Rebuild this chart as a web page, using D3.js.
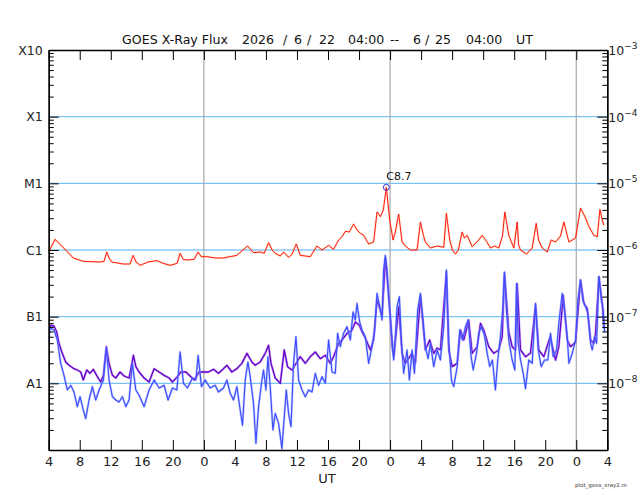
<!DOCTYPE html>
<html>
<head>
<meta charset="utf-8">
<script src="https://cdn.jsdelivr.net/npm/d3@7"></script>
<style>
  body { margin: 0; background: #fff; }
  text { font-family: "DejaVu Sans", sans-serif; }
</style>
</head>
<body>
<div id="chart"></div>
<script>
// hours since 2026/6/22 04:00 UT, flux given as log10(W/m^2)
var redHours = [0, 0.81, 2.1, 3.17, 4.43, 6.62, 7.14, 7.48, 7.78, 8.13, 9.59, 10.49, 10.88, 11.26, 11.79, 12.8, 13.94, 14.75, 15.65, 16.55, 16.94, 17.33, 17.81, 18.75, 19.26, 19.65, 20.39, 21.46, 22.49, 23.39, 24.26, 25.63, 26.4, 27.26, 27.78, 28.34, 28.81, 29.2, 29.85, 30.27, 30.92, 31.39, 31.91, 32.43, 33.07, 33.72, 34.58, 35.23, 36.08, 36.72, 37.37, 37.81, 38.23, 38.75, 39.3, 39.74, 40.17, 40.59, 41.24, 41.88, 42.32, 42.75, 43.13, 43.52, 43.95, 44.39, 44.68, 45.11, 45.55, 45.97, 46.62, 47.48, 47.91, 48.3, 48.55, 49.2, 50.06, 50.92, 51.26, 51.69, 52.04, 52.42, 52.8, 53.29, 53.59, 53.94, 54.58, 55.43, 55.87, 56.43, 56.94, 57.46, 58.01, 58.49, 58.79, 59.3, 59.95, 60.39, 60.56, 60.81, 61.59, 62.32, 62.84, 63.14, 63.61, 64.26, 64.77, 65.33, 65.97, 66.4, 67.05, 67.91, 68.55, 69.2, 69.63, 70.27, 70.71, 71.05, 71.35, 71.56];
var redLog = [-6.03, -5.84, -5.99, -6.12, -6.17, -6.18, -6.17, -6.03, -6.12, -6.18, -6.21, -6.21, -6.08, -6.18, -6.23, -6.18, -6.16, -6.2, -6.23, -6.2, -6.05, -6.14, -6.15, -6.14, -6.03, -6.1, -6.1, -6.12, -6.12, -6.1, -6.08, -5.94, -6.04, -6.03, -6.05, -5.89, -6.0, -6.05, -6.09, -6.03, -6.11, -6.06, -5.91, -6.08, -6.09, -6.1, -5.94, -6.0, -5.93, -5.99, -5.85, -5.8, -5.72, -5.73, -5.61, -5.7, -5.75, -5.78, -5.91, -5.88, -5.43, -5.5, -5.4, -5.06, -5.55, -5.85, -5.73, -5.46, -5.88, -5.94, -6.0, -6.0, -5.58, -5.78, -5.88, -5.97, -5.94, -5.96, -5.45, -5.85, -6.0, -6.06, -6.0, -5.73, -5.82, -5.78, -5.95, -5.85, -5.78, -5.87, -5.97, -5.94, -5.97, -5.79, -5.43, -5.78, -5.97, -5.58, -5.92, -6.0, -6.06, -5.97, -5.6, -5.85, -5.97, -6.03, -5.85, -5.88, -5.79, -5.58, -5.88, -5.82, -5.37, -5.52, -5.65, -5.78, -5.8, -5.39, -5.55, -5.63];

var purpleHours = [0, 0.26, 0.68, 1.03, 1.33, 1.75, 2.19, 2.62, 3.26, 3.69, 4.13, 4.46, 4.9, 5.33, 5.75, 6.27, 6.71, 7.05, 7.43, 7.78, 8.21, 8.65, 9.2, 9.72, 10.36, 10.92, 11.23, 11.65, 12.3, 12.94, 13.59, 14.23, 14.88, 15.52, 15.95, 16.59, 17.03, 17.68, 18.32, 18.75, 19.39, 19.95, 20.59, 21.24, 21.88, 22.53, 22.97, 23.61, 24.26, 24.9, 25.55, 26.19, 26.62, 27.26, 27.91, 28.34, 28.65, 29.2, 29.85, 30.36, 30.79, 31.35, 32.0, 32.43, 33.07, 33.72, 34.36, 35.01, 35.65, 36.3, 36.72, 37.37, 37.81, 38.45, 39.1, 39.52, 40.04, 40.39, 40.81, 41.46, 41.88, 42.32, 42.97, 43.41, 43.83, 44.28, 44.48, 45.12, 45.55, 45.97, 46.83, 47.26, 47.91, 48.55, 49.11, 49.63, 50.06, 50.49, 51.26, 51.56, 52.0, 52.65, 53.07, 53.5, 54.14, 54.58, 55.23, 55.65, 56.08, 56.72, 57.37, 58.01, 58.45, 58.75, 59.3, 59.74, 60.17, 60.39, 60.81, 61.46, 62.1, 62.75, 63.17, 63.82, 64.64, 65.33, 65.75, 66.32, 66.84, 67.26, 67.91, 68.55, 68.98, 69.42, 69.85, 70.27, 70.49, 70.92, 71.35, 71.56];
var purpleLog = [-7.2, -7.13, -7.14, -7.23, -7.4, -7.55, -7.68, -7.73, -7.78, -7.8, -7.83, -7.95, -7.8, -7.85, -7.79, -7.9, -7.98, -7.88, -7.45, -7.7, -7.88, -7.92, -7.83, -7.89, -7.92, -7.58, -7.75, -7.83, -7.92, -7.98, -7.78, -7.83, -7.88, -7.92, -7.98, -7.9, -7.83, -7.83, -7.9, -7.95, -7.83, -7.83, -7.83, -7.79, -7.85, -7.78, -7.73, -7.83, -7.78, -7.7, -7.55, -7.68, -7.73, -7.68, -7.55, -7.43, -7.7, -7.92, -8.0, -7.5, -7.75, -7.8, -7.68, -7.6, -7.7, -7.6, -7.53, -7.63, -7.58, -7.7, -7.6, -7.4, -7.35, -7.25, -7.2, -7.08, -7.13, -7.23, -7.32, -7.5, -7.35, -6.75, -6.98, -6.12, -6.7, -7.45, -7.6, -6.85, -7.55, -7.7, -7.55, -7.7, -6.69, -7.5, -7.35, -7.55, -7.47, -7.5, -6.33, -7.5, -7.75, -7.7, -7.2, -7.35, -7.05, -7.55, -7.45, -7.1, -7.2, -7.45, -7.55, -7.5, -7.3, -6.35, -7.23, -7.45, -7.5, -6.51, -7.5, -7.6, -7.55, -6.83, -7.5, -7.6, -7.3, -7.65, -7.45, -6.68, -7.35, -7.45, -7.38, -6.45, -6.8, -6.88, -7.35, -7.4, -7.25, -6.4, -6.8, -7.18];

var blueHours = [0, 0.17, 0.68, 1.11, 1.55, 1.97, 2.4, 2.84, 3.26, 3.69, 4.04, 4.46, 4.77, 5.2, 5.63, 6.06, 6.49, 7.05, 7.43, 7.78, 8.21, 8.65, 9.07, 9.5, 9.94, 10.36, 10.79, 11.23, 11.65, 12.3, 12.94, 13.59, 14.23, 14.88, 15.39, 15.95, 16.52, 16.94, 17.37, 17.88, 18.53, 18.97, 19.26, 19.69, 20.17, 20.81, 21.46, 21.88, 22.53, 22.97, 23.39, 23.82, 24.26, 24.68, 24.98, 25.33, 25.68, 25.97, 26.4, 26.71, 27.05, 27.48, 27.69, 28.0, 28.26, 28.55, 28.9, 29.2, 29.63, 30.06, 30.27, 30.62, 30.92, 31.23, 31.56, 31.87, 32.21, 32.65, 33.07, 33.5, 33.94, 34.36, 34.79, 35.23, 35.65, 36.08, 36.52, 36.94, 37.24, 37.59, 38.01, 38.45, 38.88, 39.23, 39.52, 39.74, 40.08, 40.39, 40.81, 41.24, 41.68, 42.01, 42.32, 42.66, 42.97, 43.17, 43.39, 43.61, 43.82, 44.04, 44.26, 44.46, 44.68, 44.9, 45.2, 45.46, 45.75, 46.19, 46.49, 46.84, 47.14, 47.56, 47.91, 48.21, 48.55, 48.9, 49.2, 49.63, 50.06, 50.49, 50.92, 51.26, 51.56, 51.91, 52.21, 52.65, 52.98, 53.33, 53.72, 54.06, 54.45, 54.71, 55.14, 55.43, 55.74, 56.17, 56.52, 56.85, 57.19, 57.58, 57.88, 58.23, 58.52, 58.74, 59.0, 59.3, 59.74, 60.08, 60.3, 60.52, 60.81, 61.16, 61.46, 61.88, 62.32, 62.75, 63.1, 63.48, 63.91, 64.34, 64.68, 65.03, 65.46, 65.75, 66.19, 66.49, 66.84, 67.05, 67.48, 67.91, 68.21, 68.55, 68.85, 69.2, 69.5, 69.85, 70.06, 70.36, 70.62, 70.92, 71.23, 71.48, 71.65];
var blueLog = [-7.38, -7.17, -7.2, -7.35, -7.7, -7.88, -8.1, -8.03, -8.13, -8.35, -8.2, -8.4, -8.53, -8.25, -8.05, -8.25, -8.1, -7.95, -7.47, -7.95, -8.2, -8.25, -8.28, -8.2, -8.35, -8.25, -7.7, -8.1, -8.18, -8.35, -8.1, -7.95, -8.07, -8.03, -8.25, -8.07, -8.1, -7.53, -8.0, -8.07, -7.92, -7.95, -7.58, -8.05, -7.95, -8.07, -8.03, -8.13, -8.07, -7.95, -8.15, -8.25, -8.05, -8.4, -8.63, -7.95, -7.68, -7.9, -8.3, -8.9, -8.35, -7.95, -7.8, -8.1, -7.6, -8.05, -8.7, -8.45, -8.6, -8.98, -8.65, -8.1, -8.45, -8.65, -7.7, -7.3, -7.95, -8.1, -8.2, -8.1, -8.13, -7.85, -8.03, -7.9, -8.0, -7.35, -7.83, -7.85, -7.25, -7.45, -7.25, -7.15, -7.35, -6.93, -7.05, -6.8, -7.08, -7.2, -7.3, -7.7, -7.45, -7.2, -6.65, -6.85, -7.05, -6.3, -6.08, -6.3, -6.7, -7.0, -7.35, -7.65, -7.3, -6.85, -6.7, -7.35, -7.85, -7.5, -7.95, -7.5, -7.85, -6.9, -6.65, -7.0, -7.45, -7.63, -7.4, -7.75, -7.5, -7.65, -7.15, -6.3, -7.35, -7.95, -8.05, -7.75, -7.2, -7.35, -7.15, -7.05, -7.6, -7.8, -7.55, -7.25, -7.15, -7.28, -7.55, -7.75, -7.65, -8.1, -7.65, -7.3, -6.9, -6.33, -6.9, -7.35, -7.65, -7.8, -6.5, -7.4, -7.65, -7.85, -8.08, -7.65, -7.7, -6.8, -7.5, -7.75, -7.65, -7.65, -7.25, -7.6, -7.5, -7.1, -6.65, -6.9, -7.3, -7.7, -7.55, -7.35, -6.75, -6.45, -6.75, -6.85, -6.95, -7.4, -7.5, -7.3, -7.4, -6.4, -6.75, -6.9, -7.23];

var hourTicks = [0, 4, 8, 12, 16, 20, 24, 28, 32, 36, 40, 44, 48, 52, 56, 60, 64, 68, 72];
var startHourOfDay = 4;
var dayLines = [20, 44, 68];
var decades = [1e-9, 1e-8, 1e-7, 1e-6, 1e-5, 1e-4, 1e-3];
var classLabels = ["", "A1", "B1", "C1", "M1", "X1", "X10"];
var rightExponents = ["", "-8", "-7", "-6", "-5", "-4", "-3"];
var peakHour = 43.52, peakFlux = 8.7e-6, peakLabel = "C8.7";

var svg = d3.select("#chart").append("svg")
    .attr("width", 640)
    .attr("height", 500);

var x = d3.scaleLinear().domain([0, 72]).range([48.7, 607.3]);
var y = d3.scaleLog().domain([1e-9, 1e-3]).range([450, 50]);

// title pieces
var titleParts = [["GOES X-Ray Flux", 122], ["2026", 242], ["/", 283], ["6", 294], ["/", 307], ["22", 319],
    ["04:00", 348], ["--", 390], ["6", 413], ["/", 425], ["25", 435], ["04:00", 466], ["UT", 516]];
svg.append("g").selectAll("text")
    .data(titleParts)
    .enter().append("text")
    .attr("x", function(d){ return d[1]; })
    .attr("y", 44)
    .attr("font-size", 12.6)
    .attr("fill", "#111")
    .text(function(d){ return d[0]; });

// gridlines
svg.append("g").selectAll("line")
    .data(decades.slice(1, 6))
    .enter().append("line")
    .attr("x1", x(0)).attr("x2", x(72))
    .attr("y1", function(d){ return y(d); })
    .attr("y2", function(d){ return y(d); })
    .attr("stroke", function(d){ return d === 1e-6 ? "#a6d6fa" : "#5cb6f2"; })
    .attr("stroke-width", function(d){ return d === 1e-6 ? 2.2 : 1; });

svg.append("g").selectAll("line")
    .data(dayLines)
    .enter().append("line")
    .attr("x1", function(d){ return x(d); })
    .attr("x2", function(d){ return x(d); })
    .attr("y1", 50).attr("y2", 450)
    .attr("stroke", "#a8a8a8")
    .attr("stroke-width", 1.2);

// data lines
svg.append("clipPath").attr("id", "clip")
    .append("rect").attr("x", x(0)).attr("y", 50).attr("width", x(72) - x(0)).attr("height", 400);

var line = d3.line()
    .x(function(d){ return x(d[0]); })
    .y(function(d){ return y(Math.pow(10, d[1])); });

function pairs(h, v){ return h.map(function(t, i){ return [t, v[i]]; }); }

var series = [
    {data: pairs(redHours, redLog), halo: "#ff9a40", haloOp: 0.3, color: "#ff1a1a", w: 1},
    {data: pairs(purpleHours, purpleLog), halo: "#9a5ae0", haloOp: 0.45, color: "#6400c8", w: 1.3},
    {data: pairs(blueHours, blueLog), halo: "#8c98ff", haloOp: 0.55, color: "#3a4cff", w: 1.1}
];
var plot = svg.append("g").attr("clip-path", "url(#clip)");
series.forEach(function(s){
    plot.append("path").datum(s.data)
        .attr("d", line).attr("fill", "none")
        .attr("stroke", s.halo).attr("stroke-width", s.w + 1.2).attr("stroke-opacity", s.haloOp)
        .attr("stroke-linejoin", "round");
    plot.append("path").datum(s.data)
        .attr("d", line).attr("fill", "none")
        .attr("stroke", s.color).attr("stroke-width", s.w)
        .attr("stroke-linejoin", "round");
});

// peak marker
svg.append("circle")
    .attr("cx", x(peakHour)).attr("cy", y(peakFlux)).attr("r", 3)
    .attr("fill", "none").attr("stroke", "#2b2bd0").attr("stroke-width", 1);
svg.append("text")
    .attr("x", x(peakHour)).attr("y", y(peakFlux) - 7)
    .attr("font-size", 11).attr("fill", "#111")
    .text(peakLabel);

// minor log ticks
var minor = [];
decades.slice(0, 6).forEach(function(d){
    for (var k = 2; k <= 9; k++) minor.push(d * k);
});

function styleAxis(g){
    g.select(".domain").attr("stroke", "#000").attr("stroke-width", 1.3);
    g.selectAll(".tick line").attr("stroke", "#000");
    g.selectAll("text").attr("font-family", "DejaVu Sans, sans-serif").attr("fill", "#222");
}

var bottomAxis = svg.append("g").attr("transform", "translate(0,450)")
    .call(d3.axisBottom(x).tickValues(hourTicks).tickSizeInner(-10).tickSizeOuter(0).tickPadding(7)
        .tickFormat(function(h){ return (startHourOfDay + h) % 24; }));
bottomAxis.selectAll("text").attr("font-size", 13);
styleAxis(bottomAxis);

var topAxis = svg.append("g").attr("transform", "translate(0,50)")
    .call(d3.axisTop(x).tickValues(hourTicks).tickSizeInner(-10).tickSizeOuter(0).tickFormat(""));
styleAxis(topAxis);

var leftAxis = svg.append("g").attr("transform", "translate(" + x(0) + ",0)")
    .call(d3.axisLeft(y).tickValues(decades).tickSizeInner(-10).tickSizeOuter(0).tickPadding(6)
        .tickFormat(function(d, i){ return classLabels[i]; }));
leftAxis.selectAll("text").attr("font-size", 12.5);
styleAxis(leftAxis);
svg.append("g").attr("transform", "translate(" + x(0) + ",0)")
    .call(d3.axisLeft(y).tickValues(minor).tickSizeInner(-5).tickSizeOuter(0).tickFormat(""))
    .call(styleAxis);

var rightAxis = svg.append("g").attr("transform", "translate(" + x(72) + ",0)")
    .call(d3.axisRight(y).tickValues(decades).tickSizeInner(-10).tickSizeOuter(0).tickPadding(1)
        .tickFormat(""));
styleAxis(rightAxis);
svg.append("g").attr("transform", "translate(" + x(72) + ",0)")
    .call(d3.axisRight(y).tickValues(minor).tickSizeInner(-5).tickSizeOuter(0).tickFormat(""))
    .call(styleAxis);

rightAxis.selectAll(".tick").each(function(d, i){
    if (!rightExponents[i]) return;
    var t = d3.select(this).append("text")
        .attr("x", 1).attr("y", 4.5)
        .attr("font-size", 12.5).attr("fill", "#222").attr("text-anchor", "start");
    t.append("tspan").text("10");
    t.append("tspan").attr("dy", -6).attr("font-size", 9).text(rightExponents[i].replace("-", "\u2212"));
});

svg.append("text").attr("x", 327).attr("y", 483)
    .attr("text-anchor", "middle").attr("font-size", 13).attr("fill", "#222")
    .text("UT");

svg.append("text").attr("x", 575).attr("y", 487)
    .attr("font-size", 5.5).attr("fill", "#444")
    .text("plot_goes_xray2.m");
</script>
</body>
</html>
